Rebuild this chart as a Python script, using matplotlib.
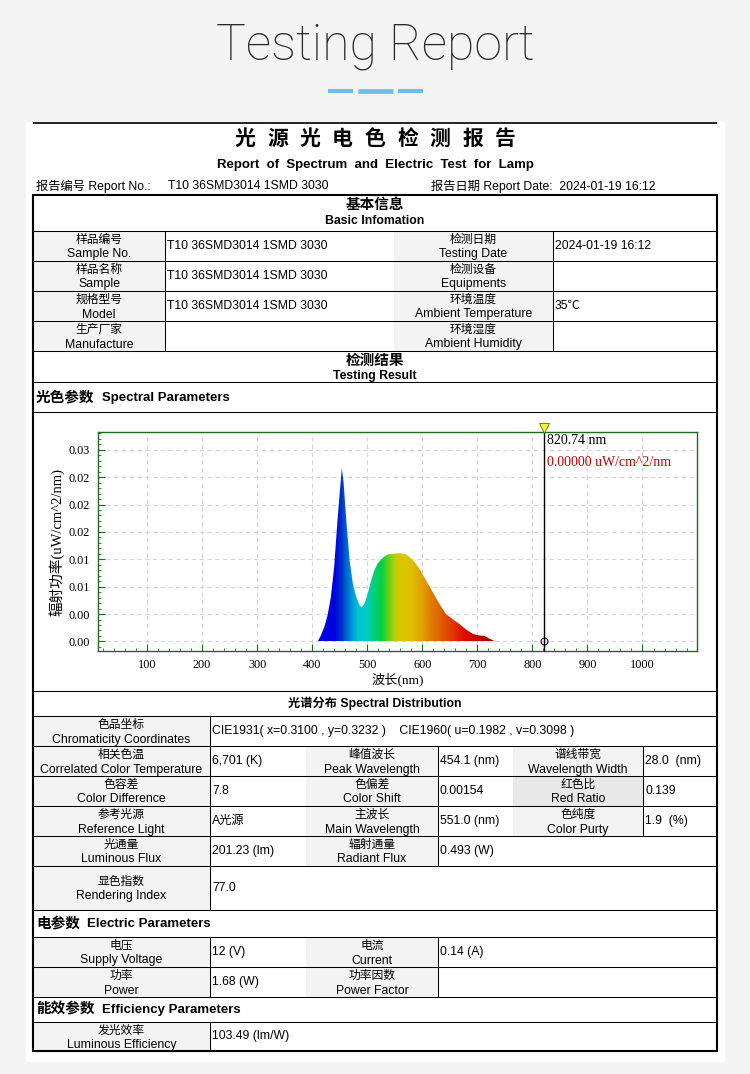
import matplotlib
matplotlib.use('Agg')
import matplotlib.pyplot as plt
import numpy as np
from matplotlib.colors import LinearSegmentedColormap
from matplotlib.patches import Rectangle, Polygon
from matplotlib.ticker import MultipleLocator, FormatStrFormatter

# spectrum (nm, uW/cm^2/nm)
wavelength = [410, 416, 422, 428, 434, 440, 446, 451, 454, 457, 462, 468, 474, 480,
              486, 490, 495, 501, 507, 513, 519, 528, 537, 547, 559, 571, 583, 595,
              607, 619, 631, 643, 656, 668, 680, 692, 701, 713, 722, 733]
power = [0.0, 0.0009, 0.0021, 0.0038, 0.0065, 0.0109, 0.0177, 0.0226, 0.0253, 0.0233,
         0.0177, 0.0119, 0.0084, 0.0065, 0.0053, 0.0050, 0.0055, 0.0070, 0.0089, 0.0104,
         0.0114, 0.0122, 0.0127, 0.0128, 0.0129, 0.0127, 0.0119, 0.0106, 0.0089, 0.0072,
         0.0055, 0.0040, 0.0032, 0.0025, 0.0017, 0.0011, 0.0009, 0.0008, 0.0004, 0.0]
cursor_nm = 820.74
cursor_val = 0.0

# colour of the fill along the wavelength axis
color_nm = [405, 440, 452, 462, 472, 482, 498, 510, 524, 536, 546, 556, 580, 600,
            614, 632, 656, 680, 704, 735]
color_hex = ['#0000e6', '#0000e0', '#0030cc', '#0068cc', '#0098dc', '#00c4d4', '#00ccc0',
             '#00d088', '#00d040', '#50d020', '#a0d010', '#d4c800', '#e0c000', '#e0a000',
             '#e08000', '#e06000', '#e03400', '#e00000', '#c00000', '#980000']

report_no = 'T10 36SMD3014 1SMD 3030'
report_date = '2024-01-19 16:12'

basic_left = [('样品编号', 'Sample No.'), ('样品名称', 'Sample'),
              ('规格型号', 'Model'), ('生产厂家', 'Manufacture')]
basic_left_val = [report_no, report_no, report_no, '']
basic_right = [('检测日期', 'Testing Date'), ('检测设备', 'Equipments'),
               ('环境温度', 'Ambient Temperature'), ('环境湿度', 'Ambient Humidity')]
basic_right_val = [report_date, '', '35℃', '']

spec_rows = [
    [(('色品坐标', 'Chromaticity Coordinates'),
      'CIE1931( x=0.3100 , y=0.3232 )    CIE1960( u=0.1982 , v=0.3098 )')],
    [(('相关色温', 'Correlated Color Temperature'), '6,701 (K)'),
     (('峰值波长', 'Peak Wavelength'), '454.1 (nm)'),
     (('谱线带宽', 'Wavelength Width'), '28.0  (nm)')],
    [(('色容差', 'Color Difference'), '7.8'),
     (('色偏差', 'Color Shift'), '0.00154'),
     (('红色比', 'Red Ratio'), '0.139')],
    [(('参考光源', 'Reference Light'), 'A光源'),
     (('主波长', 'Main Wavelength'), '551.0 (nm)'),
     (('色纯度', 'Color Purty'), '1.9  (%)')],
    [(('光通量', 'Luminous Flux'), '201.23 (lm)'),
     (('辐射通量', 'Radiant Flux'), '0.493 (W)')],
    [(('显色指数', 'Rendering Index'), '77.0')],
]
elec_rows = [
    [(('电压', 'Supply Voltage'), '12 (V)'), (('电流', 'Current'), '0.14 (A)')],
    [(('功率', 'Power'), '1.68 (W)'), (('功率因数', 'Power Factor'), '')],
]
eff_rows = [[(('发光效率', 'Luminous Efficiency'), '103.49 (lm/W)')]]

SANS = ['Liberation Sans', 'Noto Sans CJK SC']
SERIF = ['Liberation Serif', 'Noto Sans CJK SC']
LAB_FILL = '#f3f3f3'

fig = plt.figure(figsize=(7.5, 10.74), dpi=100, facecolor='#f4f4f4')
bg = fig.add_axes([0, 0, 1, 1])
bg.set_xlim(0, 750)
bg.set_ylim(1074, 0)
bg.axis('off')


def txt(x, y, s, size=8.8, ha='center', weight='normal', **kw):
    bg.text(x, y, s, fontsize=size, ha=ha, va='center', fontweight=weight,
            family=SANS, **kw)


def hline(y, x0=33, x1=717, lw=0.75):
    bg.plot([x0, x1], [y, y], color='black', lw=lw, solid_capstyle='butt')


def vline(x, y0, y1, lw=0.75):
    bg.plot([x, x], [y0, y1], color='black', lw=lw, solid_capstyle='butt')


def pair_row(y0, y1, edges, pairs):
    ym = (y0 + y1) / 2
    for i, (lab, val) in enumerate(pairs):
        xa, xb, xc = edges[2 * i], edges[2 * i + 1], edges[2 * i + 2]
        fill = '#e8e8e8' if lab[0] == '红色比' else LAB_FILL
        bg.add_patch(Rectangle((xa, y0), xb - xa, y1 - y0, facecolor=fill, edgecolor='none'))
        txt((xa + xb) / 2, ym - 6, lab[0], size=8.5)
        txt((xa + xb) / 2, ym + 8.5, lab[1])
        txt(xb + 2, ym, val, ha='left')
        vline(xb, y0, y1)
    hline(y1)


# page header
bg.add_patch(Rectangle((26, 122), 699, 940, facecolor='white', edgecolor='none'))
bg.text(375, 60, 'Testing Report', fontsize=36, ha='center', va='baseline',
        family='Roboto', fontweight='light', color='#2a2a2a')
for xa, xb, lw in [(328, 353, 3), (358, 393, 3.4), (398, 423, 3)]:
    bg.plot([xa, xb], [91, 91], color='#6dbde6', lw=lw, solid_capstyle='butt')
hline(123, lw=1.2)

title_cn = '光源光电色检测报告'
for i, ch in enumerate(title_cn):
    txt(375 + (i - 4) * 32.5, 139, ch, size=15, weight='bold')
bg.text(375, 165, 'Report  of  Spectrum  and  Electric  Test  for  Lamp', fontsize=9.5,
        ha='center', va='center', fontweight='bold',
        family=['Liberation Sans Narrow', 'Liberation Sans'])
txt(36, 186, '报告编号 Report No.:', ha='left')
txt(168, 186, report_no, ha='left')
txt(431, 186, '报告日期 Report Date:  ' + report_date, ha='left')

# basic information
txt(375, 205, '基本信息', size=10.5, weight='bold')
txt(375, 221, 'Basic Infomation', size=8.8, weight='bold')
hline(231)
y = 231
for i in range(4):
    pair_row(y, y + 30, [33, 165, 394, 553, 717],
             [(basic_left[i], basic_left_val[i]), (basic_right[i], basic_right_val[i])])
    y += 30

txt(375, 361, '检测结果', size=10.5, weight='bold')
txt(375, 376, 'Testing Result', size=8.8, weight='bold')
hline(382)


def section(y0, y1, cn, en):
    ym = (y0 + y1) / 2
    txt(36, ym, cn, size=10.5, weight='bold', ha='left')
    txt(36 + len(cn) * 15.2 + 5, ym + 0.5, en, size=9.5, weight='bold', ha='left')
    hline(y1)


section(382, 412, '光色参数', 'Spectral Parameters')
hline(691)
txt(375, 703, '光谱分布 Spectral Distribution', size=8.8, weight='bold')
hline(716)

spec_heights = [30, 30, 30, 30, 30, 44]
y = 716
for row, h in zip(spec_rows, spec_heights):
    if len(row) == 3:
        edges = [33, 210, 306, 438, 513, 643, 717]
    elif len(row) == 2:
        edges = [33, 210, 306, 438, 717]
    else:
        edges = [33, 210, 717]
    pair_row(y, y + h, edges, row)
    y += h

section(910, 937, '电参数', 'Electric Parameters')
y = 937
for row in elec_rows:
    pair_row(y, y + 30, [33, 210, 306, 438, 717], row)
    y += 30
section(997, 1022, '能效参数', 'Efficiency Parameters')
for row in eff_rows:
    pair_row(1022, 1051, [33, 210, 717], row)

# outer border
bg.add_patch(Rectangle((33, 195), 684, 856, facecolor='none', edgecolor='black', lw=1.5))

# spectrum chart
ax = fig.add_axes([98 / 750, 1 - 651 / 1074, 599 / 750, 219 / 1074])
ax.set_facecolor('white')
ax.set_axisbelow(True)
cmap = LinearSegmentedColormap.from_list(
    'spec', [((n - color_nm[0]) / (color_nm[-1] - color_nm[0]), c) for n, c in zip(color_nm, color_hex)])
grad = np.linspace(color_nm[0], color_nm[-1], 500)[None, :]
im = ax.imshow(grad, extent=[color_nm[0], color_nm[-1], 0, 0.03], cmap=cmap,
               aspect='auto', origin='lower', interpolation='bilinear', zorder=2)
shape = Polygon(np.column_stack([wavelength, power]), closed=True,
                facecolor='none', edgecolor='none', transform=ax.transData)
ax.add_patch(shape)
im.set_clip_path(shape)

ax.set_xlim(11, 1099)
ax.set_ylim(-0.0014, 0.0306)
green = '#1b6e1b'
for s in ax.spines.values():
    s.set_color(green)
    s.set_linewidth(1)
ax.xaxis.set_major_locator(MultipleLocator(100))
ax.xaxis.set_minor_locator(MultipleLocator(20))
ax.yaxis.set_major_locator(MultipleLocator(0.004))
ax.yaxis.set_minor_locator(MultipleLocator(0.0008))
ax.yaxis.set_major_formatter(FormatStrFormatter('%.2f'))
ax.tick_params(which='both', direction='in', color=green, labelsize=8.8,
               labelfontfamily='Liberation Serif')
ax.tick_params(which='major', length=5, pad=6)
ax.tick_params(which='minor', length=2.5)
ax.grid(True, which='major', linestyle=(0, (4, 3)), color='#d6d6d6', linewidth=0.8)

ax.axvline(cursor_nm, ymin=0, ymax=1.02, color='black', lw=1, clip_on=False, zorder=4)
ax.plot([cursor_nm], [cursor_val], marker='o', ms=5, mfc='none', mec='black', mew=0.8, zorder=5)
ax.plot([cursor_nm], [1.02], marker='v', ms=7, mfc='#f2f040', mec='#6a6a00', mew=0.6,
        transform=ax.get_xaxis_transform(), clip_on=False, zorder=5)
ax.text(cursor_nm + 6, 0.963, f'{cursor_nm:.2f} nm', transform=ax.get_xaxis_transform(),
        fontsize=10, family=SERIF, va='center', ha='left')
ax.text(cursor_nm + 6, 0.863, f'{cursor_val:.5f} uW/cm^2/nm', transform=ax.get_xaxis_transform(),
        fontsize=10, family=SERIF, va='center', ha='left', color='#cc0000')

ax.set_xlabel('波长(nm)', family=SERIF, fontsize=9.5, labelpad=1)
ax.set_ylabel('辐射功率(uW/cm^2/nm)', family=SERIF, fontsize=10.5, labelpad=3)

fig.savefig('out.png', dpi=100, facecolor=fig.get_facecolor())
